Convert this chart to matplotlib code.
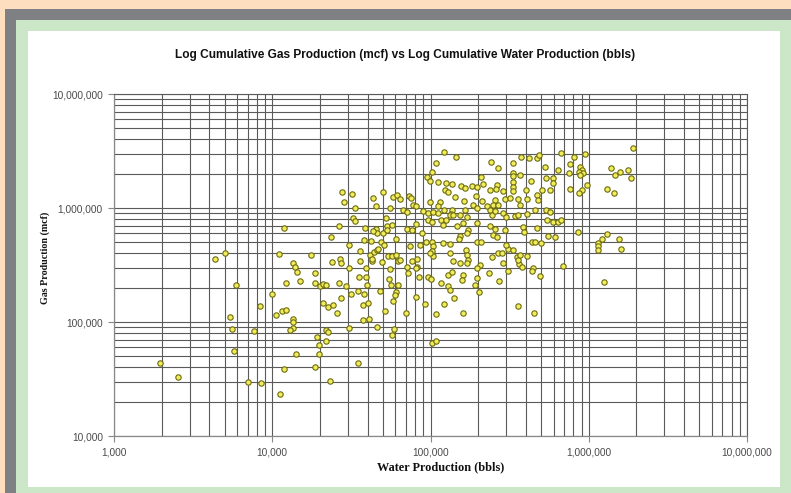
import matplotlib
matplotlib.use("Agg")
import matplotlib.pyplot as plt
from matplotlib.patches import Rectangle
from matplotlib.ticker import FuncFormatter, LogLocator, NullFormatter

# cumulative water production (bbls) per well
water = [
    1950, 2540, 4350, 5000, 5400, 5600, 5700, 5900, 7000, 8500, 7700, 8400,
    10000, 10500, 11500, 12200, 12200, 11000, 11900, 11200, 11900, 13500, 13900, 14400,
    15000, 13600, 13600, 13500, 12900, 14100, 17500, 18500, 18600, 20000, 20800, 21800,
    19200, 22000, 22600, 22000, 19800, 19700, 18500, 23100, 21000, 22400, 24300, 25600,
    23700, 26800, 27000, 30700, 26500, 29200, 27200, 30600, 31300, 34600, 34800, 35300,
    38900, 35800, 38900, 42500, 38000, 37600, 40400, 39800, 37600, 40600, 45600, 47800,
    49500, 51700, 54300, 55400, 56200, 60500, 59600, 58100, 62000, 59000, 56800,
    27400, 31700, 28500, 43500, 45000, 50000, 58100, 61600, 33400, 55400, 32500, 33300,
    52300, 26300, 38500, 45000, 45600, 43500, 53300, 57300, 50000, 52800, 23500, 38100,
    41800, 49000, 60500, 30600, 35800, 41400, 43900, 42500, 45600, 46700, 53600, 56800,
    121000, 145000, 108000, 102000, 95000, 99000, 112000, 64000, 73000, 75000, 123000, 126000,
    137000, 129000, 155000, 165000, 183000, 196000, 207000, 215000, 241000, 268000, 333000, 330000,
    333000, 367000, 372000, 420000, 468000, 484000, 429000, 333000, 330000, 262000, 258000, 237000,
    288000, 333000, 399000, 528000, 534000, 596000, 596000, 635000, 665000, 805000, 950000, 760000,
    750000, 880000, 900000, 870000, 920000, 880000, 980000, 900000, 870000, 760000, 510000, 568000,
    1890000, 1380000, 1470000, 1570000, 1780000, 1860000, 1310000, 1440000,
    67000, 77000, 81000, 70700, 99000, 115000, 112000, 143000, 163000, 194000, 186000, 197000,
    213000, 226000, 255000, 249000, 268000, 295000, 317000, 358000, 367000, 405000, 468000, 475000,
    136000, 135000, 122000, 90000, 97000, 104000, 112000, 80500, 70700, 76500, 97000, 102000,
    117000, 120000, 126000, 133000, 139000, 153000, 165000, 171000, 160000, 146000, 173000, 196000,
    237000, 243000, 255000, 286000, 299000, 341000, 358000, 405000, 456000, 536000, 568000, 541000,
    596000, 640000, 670000, 237000, 255000, 249000, 262000, 295000, 385000, 389000, 468000, 550000,
    610000, 860000, 88000, 94000, 102000, 104000, 86000, 74000, 50700, 120000, 133000, 153000,
    171000, 151000, 196000, 210000, 102000, 104000, 99000, 60500, 82000, 133000, 167000, 169000,
    139000, 153000, 173000, 205000, 243000, 268000, 281000, 310000, 333000, 299000, 350000, 367000,
    405000, 435000, 456000, 500000, 362000, 376000, 446000, 690000,
    1150000, 1150000, 1150000, 1220000, 1310000, 1550000, 1610000, 1240000,
    82000, 70700, 64000, 76000, 62500, 70000, 72000, 80500, 84000, 97000, 100000, 80500,
    92000, 108000, 121000, 117000, 129000, 133000, 129000, 136000, 141000, 161000, 157000, 161000,
    196000, 196000, 191000, 202000, 234000, 270000, 288000, 307000, 358000, 437000, 490000, 358000,
    452000, 102000, 108000, 169000,
]

# cumulative gas production (mcf) per well
gas = [
    43700, 33000, 357000, 403000, 111000, 87000, 56000, 210000, 29800, 29000, 83000, 138000,
    176000, 115000, 125000, 127000, 220000, 394000, 670000, 23300, 39000, 330000, 305000, 275000,
    229000, 107000, 100000, 89000, 85000, 52000, 390000, 270000, 220000, 207000, 215000, 210000,
    74000, 85000, 81000, 68000, 63000, 52000, 40000, 30500, 146000, 136000, 141000, 119000,
    336000, 360000, 330000, 300000, 220000, 208000, 161000, 89000, 177000, 44000, 188000, 250000,
    250000, 340000, 300000, 340000, 177000, 141000, 146000, 210000, 104000, 106000, 91000, 188000,
    334000, 125000, 237000, 290000, 210000, 185000, 171000, 154000, 340000, 87000, 77000,
    1390000, 1330000, 1140000, 1220000, 1040000, 1370000, 1260000, 1300000, 990000, 990000, 810000, 770000,
    820000, 690000, 670000, 660000, 600000, 630000, 690000, 710000, 600000, 640000, 560000, 520000,
    510000, 500000, 540000, 470000, 420000, 390000, 410000, 360000, 430000, 440000, 380000, 380000,
    3100000, 2820000, 2470000, 2060000, 1880000, 1740000, 1700000, 1200000, 1270000, 1220000, 1440000, 1650000,
    1630000, 1390000, 1560000, 1490000, 1570000, 1540000, 1860000, 1630000, 2550000, 2260000, 2470000, 2040000,
    1920000, 1950000, 2820000, 2760000, 2760000, 2920000, 1730000, 1700000, 1540000, 1590000, 1460000, 1440000,
    1420000, 1420000, 1440000, 2300000, 1820000, 1820000, 1670000, 2150000, 3020000, 2790000, 2960000, 2420000,
    2010000, 2300000, 2150000, 2060000, 2010000, 1950000, 1590000, 1440000, 1350000, 1460000, 1440000, 1440000,
    3340000, 2230000, 1940000, 2060000, 2150000, 1820000, 1460000, 1350000,
    960000, 1060000, 1040000, 920000, 1140000, 1140000, 1040000, 1260000, 1150000, 1280000, 1060000, 990000,
    1150000, 1050000, 1170000, 1060000, 1060000, 1190000, 1220000, 1190000, 1060000, 1200000, 1300000, 1170000,
    960000, 880000, 970000, 950000, 900000, 930000, 900000, 720000, 650000, 640000, 785000, 760000,
    785000, 710000, 785000, 870000, 870000, 870000, 960000, 840000, 735000, 695000, 640000, 740000,
    960000, 870000, 950000, 910000, 840000, 850000, 870000, 880000, 960000, 960000, 930000, 785000,
    760000, 760000, 785000, 695000, 660000, 580000, 560000, 640000, 680000, 620000, 670000, 570000,
    560000, 610000, 600000, 506000, 506000, 460000, 470000, 460000, 470000, 490000, 480000, 570000,
    600000, 530000, 506000, 506000, 420000, 380000, 400000, 390000, 360000, 400000, 430000, 390000,
    340000, 330000, 350000, 316000, 374000, 400000, 400000, 440000, 430000, 470000, 374000, 390000,
    380000, 506000, 506000, 490000, 320000, 305000, 296000, 310000,
    490000, 460000, 430000, 540000, 596000, 540000, 435000, 225000,
    305000, 305000, 350000, 340000, 210000, 119000, 270000, 296000, 250000, 250000, 240000, 167000,
    143000, 117000, 143000, 220000, 207000, 191000, 260000, 276000, 161000, 260000, 233000, 121000,
    296000, 242000, 210000, 185000, 270000, 230000, 330000, 280000, 350000, 282000, 255000, 138000,
    119000, 66000, 68000, 330000,
]

W, H = 791, 493
fig = plt.figure(figsize=(W / 100, H / 100), dpi=100, facecolor="#FDDFC0")

# page frame: grey band, green margin, white chart area (behind the axes)
def px_rect(x0, y0, x1, y1, color):
    fig.patches.append(Rectangle((x0 / W, 1 - y1 / H), (x1 - x0) / W, (y1 - y0) / H,
                                 transform=fig.transFigure, facecolor=color,
                                 edgecolor="none", zorder=-10))

px_rect(5, 9, W, H, "#7F8083")
px_rect(16, 20, W, H, "#CCE6C8")
px_rect(28, 31, 780, 487, "white")

ax = fig.add_axes([114 / W, 1 - 436 / H, (747 - 114) / W, (436 - 94) / H])
ax.set_facecolor("white")
ax.set_xscale("log")
ax.set_yscale("log")
ax.set_xlim(1e3, 1e7)
ax.set_ylim(1e4, 1e7)

grid_col = "#5A5A5A"
ax.xaxis.set_major_locator(LogLocator(base=10, numticks=10))
ax.yaxis.set_major_locator(LogLocator(base=10, numticks=10))
ax.xaxis.set_minor_locator(LogLocator(base=10, subs=range(2, 10), numticks=50))
ax.yaxis.set_minor_locator(LogLocator(base=10, subs=range(2, 10), numticks=50))
ax.xaxis.set_minor_formatter(NullFormatter())
ax.yaxis.set_minor_formatter(NullFormatter())
ax.grid(True, which="both", color=grid_col, linewidth=0.8)
ax.set_axisbelow(True)

fmt = FuncFormatter(lambda v, pos: f"{v:,.0f}")
ax.xaxis.set_major_formatter(fmt)
ax.yaxis.set_major_formatter(fmt)
ax.tick_params(which="major", direction="out", length=4, width=0.8, color="#888888",
               labelsize=7.3, labelcolor="#4A4A4A", pad=4)
ax.tick_params(which="minor", length=0)
for lab in ax.get_xticklabels() + ax.get_yticklabels():
    lab.set_family("Liberation Sans")

for side in ["left", "bottom"]:
    ax.spines[side].set_color("#888888")
    ax.spines[side].set_linewidth(0.9)
for side in ["top", "right"]:
    ax.spines[side].set_color(grid_col)
    ax.spines[side].set_linewidth(0.8)

ax.scatter(water, gas, s=15, facecolor="#F2EC5A", edgecolor="#6B6B10",
           linewidth=0.8, zorder=3, clip_on=False)

fig.text(405 / W, 1 - 55 / H,
         "Log Cumulative Gas Production (mcf) vs Log Cumulative Water Production (bbls)",
         ha="center", va="center", fontsize=8.6, fontweight="bold",
         family="Liberation Sans", color="#111111")
fig.text(441 / W, 1 - 467 / H, "Water Production (bbls)", ha="center", va="center",
         fontsize=8.8, fontweight="bold", family="Liberation Serif", color="#111111")
fig.text(45 / W, 1 - 258 / H, "Gas Production (mcf)", ha="center", va="center",
         rotation=90, fontsize=7.2, fontweight="bold", family="Liberation Serif",
         color="#111111")

plt.savefig("out.png", dpi=100, facecolor=fig.get_facecolor())
